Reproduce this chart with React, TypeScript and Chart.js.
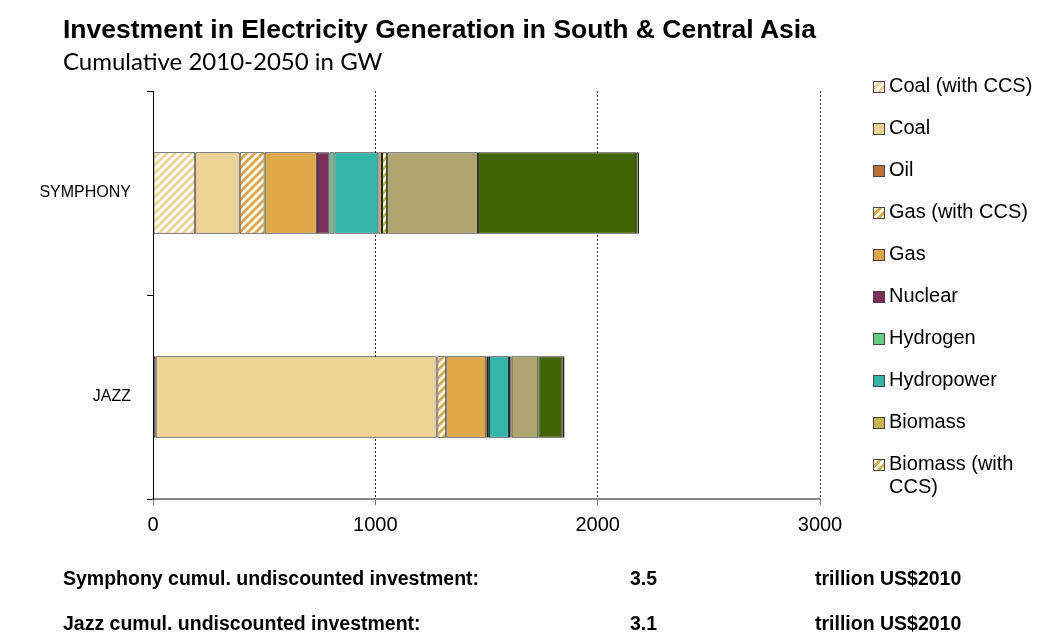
import React, { useEffect, useRef } from "react";
import { Chart, registerables } from "chart.js";

Chart.register(...registerables);

const categories = ["SYMPHONY", "JAZZ"];
const seriesNames = [
  "Coal (with CCS)",
  "Coal",
  "Oil",
  "Gas (with CCS)",
  "Gas",
  "Nuclear",
  "Hydrogen",
  "Hydropower",
  "Biomass",
  "Biomass (with CCS)",
  "Wind",
  "Solar",
  "Other renewables",
];
const symphonyValues = [190, 200, 0, 112, 235, 57, 22, 198, 16, 23, 409, 711, 13];
const jazzValues = [12, 1264, 3, 40, 180, 8, 4, 90, 8, 4, 120, 110, 8];
const seriesColors = [
  "#EED397",
  "#EED397",
  "#C0703A",
  "#DEA848",
  "#DEA848",
  "#7A3058",
  "#66CC88",
  "#33B5A8",
  "#C8B450",
  "#C8B450",
  "#AFA66E",
  "#406400",
  "#7FA020",
];
const seriesHatched = [true, false, false, true, false, false, false, false, false, true, false, false, false];
const legendCount = 10;
const xTicks = [0, 1000, 2000, 3000];
const investmentRows = [
  ["Symphony cumul. undiscounted investment:", "3.5", "trillion US$2010"],
  ["Jazz cumul. undiscounted investment:", "3.1", "trillion US$2010"],
];

function makeHatch(color: string): CanvasPattern | string {
  const c = document.createElement("canvas");
  c.width = 8;
  c.height = 8;
  const ctx = c.getContext("2d");
  if (!ctx) return color;
  ctx.fillStyle = "#ffffff";
  ctx.fillRect(0, 0, 8, 8);
  ctx.strokeStyle = color;
  ctx.lineWidth = 3;
  ctx.beginPath();
  ctx.moveTo(-2, 2);
  ctx.lineTo(2, -2);
  ctx.moveTo(0, 8);
  ctx.lineTo(8, 0);
  ctx.moveTo(6, 10);
  ctx.lineTo(10, 6);
  ctx.stroke();
  return ctx.createPattern(c, "repeat") || color;
}

export default function App() {
  const ref = useRef<HTMLCanvasElement | null>(null);

  useEffect(() => {
    if (!ref.current) return;
    const datasets = seriesNames.map((name, i) => ({
      label: name,
      data: [symphonyValues[i], jazzValues[i]],
      backgroundColor: seriesHatched[i] ? makeHatch(seriesColors[i]) : seriesColors[i],
      borderColor: "#222222",
      borderWidth: 1,
      borderSkipped: false as const,
      barPercentage: 0.8,
      categoryPercentage: 0.5,
    }));
    const chart = new Chart(ref.current, {
      type: "bar",
      data: { labels: categories, datasets },
      options: {
        animation: false,
        responsive: false,
        indexAxis: "y",
        layout: { padding: { top: 91, right: 223, left: 0, bottom: 0 } },
        plugins: { legend: { display: false }, tooltip: { enabled: false } },
        scales: {
          x: {
            stacked: true,
            min: 0,
            max: 3000,
            afterBuildTicks: (s: any) => {
              s.ticks = xTicks.map((v) => ({ value: v }));
            },
            afterFit: (s: any) => {
              s.height = 638 - 499;
            },
            ticks: {
              color: "#000",
              font: { family: "'Liberation Sans', Arial, sans-serif", size: 20 },
              padding: 8,
              maxRotation: 0,
              callback: (v: any) => String(v),
            },
            grid: {
              color: "#333",
              lineWidth: 1,
              tickLength: 6,
              tickColor: "#777",
              tickBorderDash: [],
            } as any,
            border: { color: "#888", width: 2, dash: [2, 2] },
          },
          y: {
            stacked: true,
            afterFit: (s: any) => {
              s.width = 153;
            },
            ticks: {
              color: "#000",
              font: { family: "'Liberation Sans', Arial, sans-serif", size: 16 },
              padding: 16,
            },
            grid: {
              offset: true,
              drawOnChartArea: false,
              drawTicks: true,
              tickLength: 6,
              color: "#000",
            },
            border: { color: "#000", width: 1 },
          },
        },
      },
    });
    return () => chart.destroy();
  }, []);

  const swatchBg = (i: number) =>
    seriesHatched[i]
      ? `repeating-linear-gradient(135deg, #fff 0px, #fff 3px, ${seriesColors[i]} 3px, ${seriesColors[i]} 6px)`
      : seriesColors[i];

  return (
    <div
      style={{
        position: "absolute",
        left: 0,
        top: 0,
        width: 1043,
        height: 638,
        background: "#fff",
        overflow: "hidden",
        fontFamily: "'Liberation Sans', Arial, sans-serif",
      }}
    >
      <canvas ref={ref} width={1043} height={638} style={{ position: "absolute", left: 0, top: 0 }} />
      <div
        style={{
          position: "absolute",
          left: 63,
          top: 14,
          fontSize: 26.5,
          fontWeight: "bold",
          color: "#000",
          whiteSpace: "nowrap",
        }}
      >
        Investment in Electricity Generation in South &amp; Central Asia
      </div>
      <div
        style={{
          position: "absolute",
          left: 63,
          top: 46,
          fontSize: 24,
          fontFamily: "Lato, 'Open Sans', sans-serif",
          color: "#000",
          whiteSpace: "nowrap",
        }}
      >
        Cumulative 2010-2050 in GW
      </div>
      <div style={{ position: "absolute", left: 873, top: 74 }}>
        {seriesNames.slice(0, legendCount).map((name, i) => (
          <div
            key={name}
            style={{ display: "flex", alignItems: "flex-start", height: 42, fontSize: 20, color: "#000" }}
          >
            <div
              style={{
                width: 10,
                height: 10,
                marginTop: 7,
                marginRight: 4,
                border: "1px solid #444",
                background: swatchBg(i),
                flex: "0 0 auto",
              }}
            />
            <div style={{ width: 156, lineHeight: "23px" }}>{name}</div>
          </div>
        ))}
      </div>
      {investmentRows.map((row, r) => (
        <div
          key={r}
          style={{
            position: "absolute",
            left: 0,
            top: 567 + r * 45,
            fontSize: 19.5,
            fontWeight: "bold",
            color: "#000",
            whiteSpace: "nowrap",
          }}
        >
          <span style={{ position: "absolute", left: 63 }}>{row[0]}</span>
          <span style={{ position: "absolute", left: 630 }}>{row[1]}</span>
          <span style={{ position: "absolute", left: 815 }}>{row[2]}</span>
        </div>
      ))}
    </div>
  );
}
